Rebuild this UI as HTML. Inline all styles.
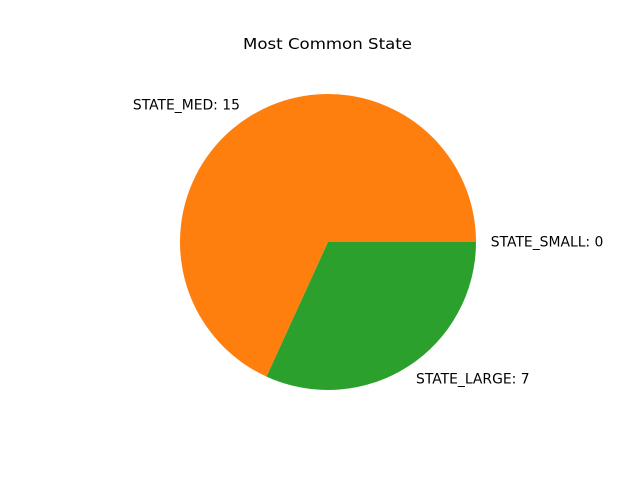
<!DOCTYPE html>
<html>
<head>
<meta charset="utf-8">
<style>
  html, body { margin: 0; padding: 0; background: #fff; }
  svg { display: block; font-family: "DejaVu Sans", "Liberation Sans", sans-serif; }
</style>
</head>
<body>
<svg id="chart" width="640" height="480" viewBox="0 0 640 480">
  <rect width="640" height="480" fill="#ffffff"></rect>
  <text x="243" y="49" textLength="169" lengthAdjust="spacingAndGlyphs" font-size="15" fill="#000">Most Common State</text>
  <g id="slices"></g>
  <g id="labels"></g>
</svg>
<script>
const categories = ["STATE_SMALL", "STATE_MED", "STATE_LARGE"];
const values = [0, 15, 7];
const colors = ["#1f77b4", "#ff7f0e", "#2ca02c"];

const cx = 328, cy = 242, r = 148;
const NS = "http://www.w3.org/2000/svg";
const total = values.reduce((a, b) => a + b, 0);
const slicesG = document.getElementById("slices");
const labelsG = document.getElementById("labels");
function pt(angDeg, rad) {
  const a = angDeg * Math.PI / 180;
  return [cx + rad * Math.cos(a), cy - rad * Math.sin(a)];
}
let start = 0;
values.forEach((v, i) => {
  const sweep = v / total * 360;
  const end = start + sweep;
  if (sweep > 0) {
    const p0 = pt(start, r), p1 = pt(end, r);
    const large = sweep > 180 ? 1 : 0;
    const path = document.createElementNS(NS, "path");
    path.setAttribute("d", `M${cx},${cy} L${p0[0]},${p0[1]} A${r},${r} 0 ${large} 0 ${p1[0]},${p1[1]} Z`);
    path.setAttribute("fill", colors[i]);
    
    
    slicesG.appendChild(path);
  }
  const mid = start + sweep / 2;
  const lp = pt(mid, r * 1.1);
  const t = document.createElementNS(NS, "text");
  t.setAttribute("x", lp[0]);
  t.setAttribute("y", lp[1] + 4.5);
  t.setAttribute("font-size", "13.9");
  t.setAttribute("fill", "#000");
  t.setAttribute("text-anchor", Math.cos(mid * Math.PI / 180) >= 0 ? "start" : "end");
  t.textContent = categories[i] + ": " + v;
  
  
  labelsG.appendChild(t);
  start = end;
});
</script>
</body>
</html>
